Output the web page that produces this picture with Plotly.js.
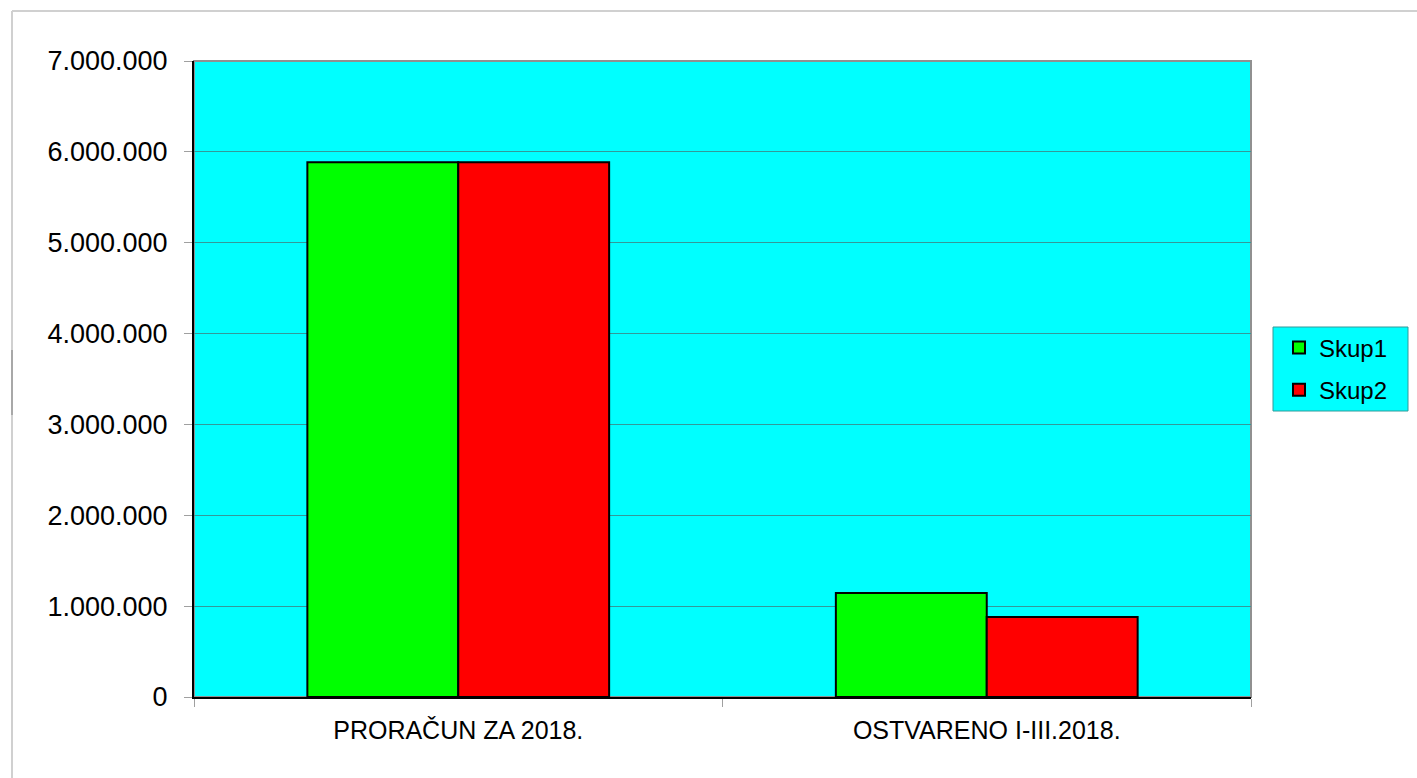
<!DOCTYPE html>
<html>
<head>
<meta charset="utf-8">
<script src="https://cdn.plot.ly/plotly-3.0.1.min.js"></script>
<style>html,body{margin:0;padding:0;background:#fff;}#chart{width:1417px;height:778px;}</style>
</head>
<body>
<div id="chart"></div>
<script>
const categories = ["PRORAČUN ZA 2018.", "OSTVARENO I-III.2018."];
const skup1 = [5886000, 1144000];
const skup2 = [5886000, 880000];
const seriesNames = ["Skup1", "Skup2"];
const yTicks = [0, 1000000, 2000000, 3000000, 4000000, 5000000, 6000000, 7000000];

const W = 1417, H = 778;
const L = 194, R = 166, T = 61, B = 81;
const pw = W - L - R, ph = H - T - B;
const px = v => (v - L) / pw;
const py = v => (H - B - v) / ph;

const font = {family: "Liberation Sans, Arial, sans-serif", color: "#000"};

const traces = [
  {type: "bar", name: seriesNames[0], x: categories, y: skup1, legendgroup: "a",
   marker: {color: "#00ff00", line: {color: "#000", width: 2}}, hoverinfo: "y"},
  {type: "bar", name: seriesNames[1], x: categories, y: skup2, legendgroup: "b",
   marker: {color: "#ff0000", line: {color: "#000", width: 2}}, hoverinfo: "y"}
];

const layout = {
  width: W, height: H,
  margin: {l: L, r: R, t: T, b: B, pad: 0},
  paper_bgcolor: "#fff",
  plot_bgcolor: "#00ffff",
  separators: ",.",
  barmode: "group",
  bargap: 0.429,
  bargroupgap: 0,
  showlegend: true,
  legend: {
    x: px(1279), xanchor: "left", y: py(369), yanchor: "middle",
    bgcolor: "rgba(0,0,0,0)", borderwidth: 0,
    font: Object.assign({}, font, {size: 24}),
    tracegroupgap: 8, itemwidth: 30
  },
  xaxis: {
    type: "category",
    tickson: "boundaries",
    ticks: "outside", ticklen: 8, tickcolor: "#a0a0a0", tickwidth: 1,
    showline: true, linecolor: "#000", linewidth: 2,
    showgrid: false,
    tickfont: Object.assign({}, font, {size: 25}),
    ticklabelstandoff: 10,
    fixedrange: true
  },
  yaxis: {
    range: [0, 7000000],
    tickvals: yTicks,
    tickformat: ",d",
    ticks: "outside", ticklen: 8, tickcolor: "#a0a0a0", tickwidth: 1,
    showline: true, linecolor: "#000", linewidth: 2,
    showgrid: true, gridcolor: "#339999", gridwidth: 1,
    zeroline: false,
    tickfont: Object.assign({}, font, {size: 27}),
    ticklabelstandoff: 11,
    fixedrange: true
  },
  shapes: [
    {type: "rect", xref: "x domain", yref: "y domain", x0: 0, x1: 1, y0: 0, y1: 1,
     line: {color: "#909090", width: 2}, layer: "below"},
    {type: "rect", xref: "paper", yref: "paper", x0: px(1273), x1: px(1408), y0: py(327), y1: py(411),
     fillcolor: "#00ffff", line: {color: "#339999", width: 1}, layer: "below"},
    {type: "line", xref: "paper", yref: "paper", x0: px(12), x1: px(12), y0: py(11), y1: py(778),
     line: {color: "#d0d0d0", width: 2}},
    {type: "line", xref: "paper", yref: "paper", x0: px(12), x1: px(1417), y0: py(11), y1: py(11),
     line: {color: "#d0d0d0", width: 2}},
    {type: "line", xref: "paper", yref: "paper", x0: px(12), x1: px(12), y0: py(350), y1: py(415),
     line: {color: "#a8a8a8", width: 2}}
  ]
};

Plotly.newPlot("chart", traces, layout, {displayModeBar: false, staticPlot: true});
</script>
</body>
</html>
